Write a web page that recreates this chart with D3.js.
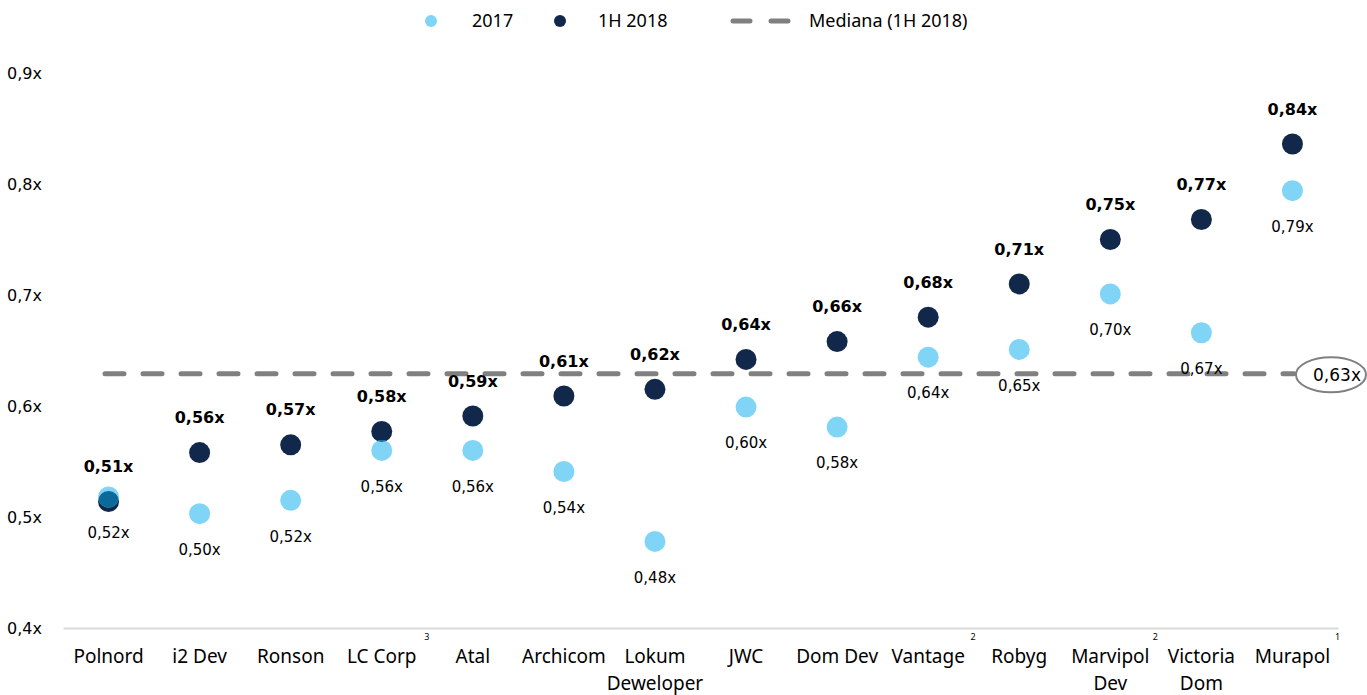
<!DOCTYPE html>
<html>
<head>
<meta charset="utf-8">
<script src="https://cdn.jsdelivr.net/npm/d3@7"></script>
<style>
body { margin: 0; background: #ffffff; }
svg { display: block; }
</style>
</head>
<body>
<div id="canvas"></div>
<script>
// ----------------------------------------------------------
// DATA -----------------------------------------------------
// ----------------------------------------------------------
var categories = ["Polnord", "i2 Dev", "Ronson", "LC Corp", "Atal", "Archicom", "Lokum\nDeweloper",
  "JWC", "Dom Dev", "Vantage", "Robyg", "Marvipol\nDev", "Victoria\nDom", "Murapol"];
var footnotes = ["", "", "", "3", "", "", "", "", "", "2", "", "2", "", "1"];

var values_2017 = [0.518, 0.503, 0.515, 0.560, 0.560, 0.541, 0.478, 0.599, 0.581, 0.644, 0.651, 0.701, 0.666, 0.794];
var labels_2017 = ["0,52x", "0,50x", "0,52x", "0,56x", "0,56x", "0,54x", "0,48x", "0,60x", "0,58x", "0,64x", "0,65x", "0,70x", "0,67x", "0,79x"];

var values_1h2018 = [0.514, 0.558, 0.565, 0.577, 0.591, 0.609, 0.615, 0.642, 0.658, 0.680, 0.710, 0.750, 0.768, 0.836];
var labels_1h2018 = ["0,51x", "0,56x", "0,57x", "0,58x", "0,59x", "0,61x", "0,62x", "0,64x", "0,66x", "0,68x", "0,71x", "0,75x", "0,77x", "0,84x"];

var median_value = 0.629;
var median_label = "0,63x";

var y_ticks = [0.4, 0.5, 0.6, 0.7, 0.8, 0.9];
var series_names = ["2017", "1H 2018", "Mediana (1H 2018)"];

// ----------------------------------------------------------
// SETTINGS -------------------------------------------------
// ----------------------------------------------------------
var width = 1367, height = 695;
var color_light = "#80d5f7";
var color_dark = "#12284a";
var color_overlap = "#0b6a9a";
var color_median = "#808080";
var color_axis = "#d9d9d9";
var font_num = "'DejaVu Sans', Verdana, sans-serif";
var font_txt = "'Noto Sans', 'Open Sans', sans-serif";

var svg = d3.select("#canvas").append("svg")
  .attr("width", width)
  .attr("height", height);

// scales
var xScale = d3.scaleBand()
  .domain(categories)
  .range([63, 1338]);
var yScale = d3.scaleLinear()
  .domain([0.4, 0.9])
  .range([628, 73]);
var cx = function(i) { return xScale(categories[i]) + xScale.bandwidth() / 2; };

// ----------------------------------------------------------
// AXES -----------------------------------------------------
// ----------------------------------------------------------
// y axis: labels only
svg.append("g")
  .attr("transform", "translate(7,0)")
  .call(d3.axisLeft(yScale).tickValues(y_ticks).tickSize(0)
    .tickFormat(function(d) { return d3.format(".1f")(d).replace(".", ",") + "x"; }))
  .call(function(g) {
    g.select(".domain").remove();
    g.selectAll(".tick text")
      .attr("x", 0)
      .attr("text-anchor", "start")
      .attr("dy", "0.35em")
      .style("font-family", font_num)
      .style("font-size", "16px")
      .style("fill", "#000");
  });

// x axis
svg.append("g")
  .attr("transform", "translate(0," + yScale(0.4) + ")")
  .call(d3.axisBottom(xScale).tickSize(0).tickFormat(""))
  .call(function(g) {
    g.select(".domain").attr("stroke", color_axis).attr("stroke-width", 2);
    g.selectAll(".tick").each(function(d, i) {
      var t = d3.select(this).append("text")
        .attr("y", 35)
        .attr("text-anchor", "middle")
        .style("font-family", font_txt)
        .style("font-size", "19px")
        .style("fill", "#000");
      d.split("\n").forEach(function(line, k) {
        t.append("tspan").attr("x", 0).attr("dy", k === 0 ? 0 : 27).text(line);
      });
      if (footnotes[i]) {
        d3.select(this).append("text")
          .attr("x", 45)
          .attr("y", 12)
          .attr("text-anchor", "middle")
          .style("font-family", font_txt)
          .style("font-size", "9px")
          .style("fill", "#000")
          .text(footnotes[i]);
      }
    });
  });

// ----------------------------------------------------------
// MEDIAN ---------------------------------------------------
// ----------------------------------------------------------
svg.append("line")
  .attr("x1", 105)
  .attr("x2", 1294)
  .attr("y1", yScale(median_value))
  .attr("y2", yScale(median_value))
  .attr("stroke", color_median)
  .attr("stroke-width", 5)
  .attr("stroke-linecap", "round")
  .attr("stroke-dasharray", "19,19");

svg.append("ellipse")
  .attr("cx", 1331)
  .attr("cy", yScale(median_value) + 1)
  .attr("rx", 35)
  .attr("ry", 17.5)
  .attr("fill", "#fff")
  .attr("stroke", color_median)
  .attr("stroke-width", 2);
svg.append("text")
  .attr("x", 1337)
  .attr("y", yScale(median_value) + 1)
  .attr("dy", "0.35em")
  .attr("text-anchor", "middle")
  .style("font-family", font_num)
  .style("font-size", "17px")
  .style("fill", "#000")
  .text(median_label);

// ----------------------------------------------------------
// POINTS ---------------------------------------------------
// ----------------------------------------------------------
var r = 10.5;
var points = svg.append("g");
var defs = svg.append("defs");

points.selectAll(".dot_1h")
  .data(values_1h2018)
  .enter().append("circle")
  .attr("class", "dot_1h")
  .attr("cx", function(d, i) { return cx(i); })
  .attr("cy", function(d) { return yScale(d); })
  .attr("r", r)
  .style("fill", color_dark);

points.selectAll(".dot_17")
  .data(values_2017)
  .enter().append("circle")
  .attr("class", "dot_17")
  .attr("cx", function(d, i) { return cx(i); })
  .attr("cy", function(d) { return yScale(d); })
  .attr("r", r)
  .style("fill", color_light);

// overlap of both markers (visible only where they cross)
defs.selectAll("clipPath")
  .data(values_1h2018)
  .enter().append("clipPath")
  .attr("id", function(d, i) { return "clip_" + i; })
  .append("circle")
  .attr("cx", function(d, i) { return cx(i); })
  .attr("cy", function(d) { return yScale(d); })
  .attr("r", r);
points.selectAll(".dot_ov")
  .data(values_2017)
  .enter().append("circle")
  .attr("class", "dot_ov")
  .attr("clip-path", function(d, i) { return "url(#clip_" + i + ")"; })
  .attr("cx", function(d, i) { return cx(i); })
  .attr("cy", function(d) { return yScale(d); })
  .attr("r", r)
  .style("fill", color_overlap);

// labels
points.selectAll(".lab_1h")
  .data(values_1h2018)
  .enter().append("text")
  .attr("class", "lab_1h")
  .attr("x", function(d, i) { return cx(i); })
  .attr("y", function(d) { return yScale(d) - 35; })
  .attr("dy", "0.35em")
  .attr("text-anchor", "middle")
  .style("font-family", font_num)
  .style("font-size", "16px")
  .style("font-weight", "bold")
  .style("fill", "#000")
  .text(function(d, i) { return labels_1h2018[i]; });

points.selectAll(".lab_17")
  .data(values_2017)
  .enter().append("text")
  .attr("class", "lab_17")
  .attr("x", function(d, i) { return cx(i); })
  .attr("y", function(d) { return yScale(d) + 36; })
  .attr("dy", "0.35em")
  .attr("text-anchor", "middle")
  .style("font-family", font_num)
  .style("font-size", "15px")
  .style("fill", "#000")
  .text(function(d, i) { return labels_2017[i]; });

// ----------------------------------------------------------
// LEGEND ---------------------------------------------------
// ----------------------------------------------------------
var legend = svg.append("g").attr("transform", "translate(0,21)");
legend.append("circle").attr("cx", 431).attr("cy", 0).attr("r", 6).style("fill", color_light);
legend.append("circle").attr("cx", 560).attr("cy", 0).attr("r", 6).style("fill", color_dark);
legend.append("line")
  .attr("x1", 733).attr("x2", 790).attr("y1", 0).attr("y2", 0)
  .attr("stroke", color_median)
  .attr("stroke-width", 5)
  .attr("stroke-linecap", "round")
  .attr("stroke-dasharray", "17,21");
legend.selectAll(".leg_text")
  .data(series_names)
  .enter().append("text")
  .attr("class", "leg_text")
  .attr("x", function(d, i) { return [472, 598, 809][i]; })
  .attr("y", 0)
  .attr("dy", "0.35em")
  .style("font-family", font_txt)
  .style("font-size", "18px")
  .style("fill", "#000")
  .text(function(d) { return d; });
</script>
</body>
</html>
